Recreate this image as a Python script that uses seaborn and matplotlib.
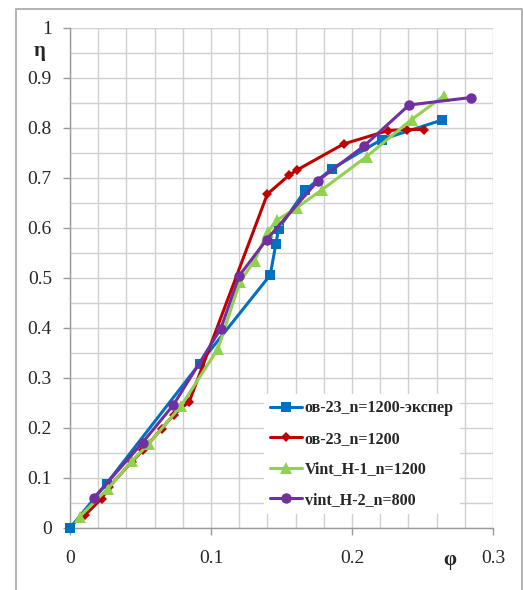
import numpy as np
import pandas as pd
import matplotlib
matplotlib.use("Agg")
import matplotlib.pyplot as plt
import matplotlib.ticker as mticker
import matplotlib.transforms as mtransforms
from matplotlib.patches import Rectangle
import seaborn as sns

# Dados
x_blue = [0.0, 0.026, 0.092, 0.142, 0.146, 0.148, 0.167, 0.186, 0.221, 0.264]
y_blue = [0.0, 0.089, 0.329, 0.506, 0.568, 0.599, 0.676, 0.719, 0.777, 0.816]

x_red = [0.0106, 0.0225, 0.028, 0.044, 0.052, 0.065, 0.0735, 0.0846,
         0.140, 0.1556, 0.161, 0.194, 0.2257, 0.239, 0.251]
y_red = [0.026, 0.059, 0.083, 0.133, 0.156, 0.199, 0.226, 0.253,
         0.668, 0.706, 0.716, 0.768, 0.795, 0.797, 0.797]

x_green = [0.007, 0.027, 0.044, 0.056, 0.079, 0.105, 0.1206, 0.131,
           0.1404, 0.147, 0.161, 0.1785, 0.2104, 0.2423, 0.265]
y_green = [0.023, 0.079, 0.134, 0.169, 0.245, 0.359, 0.493, 0.535,
           0.593, 0.616, 0.641, 0.676, 0.743, 0.817, 0.864]

x_purple = [0.0172, 0.0515, 0.0733, 0.107, 0.1199, 0.1395, 0.176, 0.2085, 0.2405, 0.2844]
y_purple = [0.061, 0.171, 0.246, 0.399, 0.504, 0.577, 0.695, 0.764, 0.846, 0.861]

labels = ['ов-23_n=1200-экспер', 'ов-23_n=1200', 'Vint_H-1_n=1200', 'vint_H-2_n=800']
xticks = [0, 0.1, 0.2, 0.3]
xtick_labels = ['0', '0.1', '0.2', '0.3']
yticks = [0, 0.1, 0.2, 0.3, 0.4, 0.5, 0.6, 0.7, 0.8, 0.9, 1.0]
ytick_labels = ['0', '0.1', '0.2', '0.3', '0.4', '0.5', '0.6', '0.7', '0.8', '0.9', '1']

sns.set_style("white")
plt.rcParams['font.family'] = ['Liberation Serif', 'DejaVu Serif']

fig = plt.figure(figsize=(5.23, 5.9), dpi=100)
ax = fig.add_axes([70 / 523, 62 / 590, 423 / 523, 500 / 590])

series = [
    (x_blue, y_blue, '#0070C0', 's', 6.5),
    (x_red, y_red, '#C00000', 'D', 5.5),
    (x_green, y_green, '#92D050', '^', 8),
    (x_purple, y_purple, '#7030A0', 'o', 7.5),
]
for (xs, ys, cor, mk, ms), lab in zip(series, labels):
    df = pd.DataFrame({'phi': xs, 'eta': ys})
    sns.lineplot(data=df, x='phi', y='eta', ax=ax, color=cor, marker=mk,
                 markersize=ms, markeredgewidth=0, linewidth=2.2, sort=False,
                 estimator=None, label=lab, clip_on=False, zorder=3)

ax.set_xlim(0, 0.3)
ax.set_ylim(0, 1.0)
ax.set_xticks(xticks)
ax.set_xticklabels(xtick_labels)
ax.set_yticks(yticks)
ax.set_yticklabels(ytick_labels)
ax.xaxis.set_minor_locator(mticker.MultipleLocator(0.02))
ax.yaxis.set_minor_locator(mticker.MultipleLocator(0.05))
ax.grid(True, which='both', color='#d0d0d0', linewidth=1.0, zorder=0)
ax.set_axisbelow(True)
ax.tick_params(axis='x', which='major', length=5, width=1, color='#9a9a9a',
               pad=11, labelsize=14, bottom=True)
ax.tick_params(axis='y', which='major', length=5, width=1, color='#9a9a9a',
               pad=8, labelsize=14, left=True)
ax.tick_params(which='minor', length=0)
for s in ['top', 'right']:
    ax.spines[s].set_visible(False)
for s in ['left', 'bottom']:
    ax.spines[s].set_color('#9a9a9a')
    ax.spines[s].set_linewidth(1.0)
ax.set_xlabel('')
ax.set_ylabel('')

# Rótulos dos eixos
ax.text(-0.073, 0.954, 'η', transform=ax.transAxes, fontsize=15,
        fontweight='bold', ha='center', va='center')
trans = mtransforms.blended_transform_factory(ax.transData, ax.transAxes)
ax.text(0.2695, -0.064, 'φ', transform=trans, fontsize=15,
        fontweight='bold', ha='center', va='center')

leg = ax.legend(loc='lower left', bbox_to_anchor=(0.44, 0.012), frameon=True,
                fancybox=False, framealpha=1, facecolor='white', edgecolor='none',
                prop={'weight': 'bold', 'size': 11.5}, handlelength=2.0,
                handletextpad=0.15, labelspacing=0.9, borderpad=0.4)
leg.set_zorder(5)

# Borda da área do gráfico
fig.patches.append(Rectangle((15.5 / 523, -0.05), 506 / 523, 0.05 + 581 / 590,
                             transform=fig.transFigure, fill=False,
                             edgecolor='#a6a6a6', linewidth=1.2))

fig.savefig('out.png', dpi=100)
